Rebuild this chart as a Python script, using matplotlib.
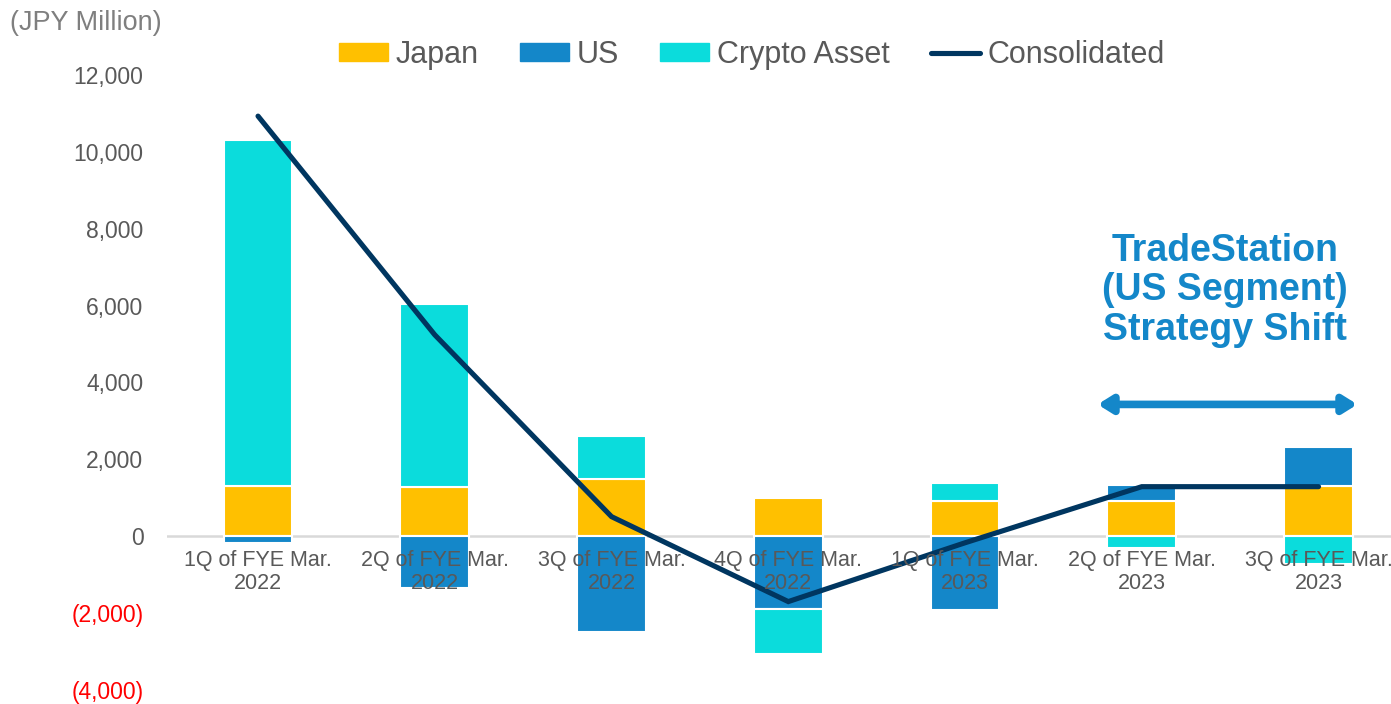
import numpy as np
import matplotlib.pyplot as plt
from matplotlib.patches import Patch
from matplotlib.lines import Line2D

# quarterly segment income (JPY million)
quarters = ['1Q of FYE Mar.\n2022', '2Q of FYE Mar.\n2022', '3Q of FYE Mar.\n2022',
            '4Q of FYE Mar.\n2022', '1Q of FYE Mar.\n2023', '2Q of FYE Mar.\n2023',
            '3Q of FYE Mar.\n2023']
japan = [1310, 1275, 1490, 1000, 910, 925, 1320]
us = [-175, -1355, -2485, -1890, -1925, 415, 1005]
crypto = [8990, 4765, 1120, -1165, 480, -310, -710]
consolidated = [10930, 5240, 510, -1700, -170, 1290, 1290]

yticks = [-4000, -2000, 0, 2000, 4000, 6000, 8000, 10000, 12000]

c_japan = '#FFC000'
c_us = '#1487C9'
c_crypto = '#0BDCDC'
c_line = '#003660'
c_text = '#595959'

plt.rcParams['font.family'] = ['Liberation Sans', 'DejaVu Sans']

fig = plt.figure(figsize=(13.91, 7.04), dpi=100)
ax = fig.add_axes([167 / 1391, 1 - 690 / 704, 1 - 167 / 1391, (690 - 75) / 704])

x = np.arange(len(quarters))
pos = np.zeros(len(x))
neg = np.zeros(len(x))
for vals, col in [(japan, c_japan), (us, c_us), (crypto, c_crypto)]:
    vals = np.array(vals, dtype=float)
    bottom = np.where(vals >= 0, pos, neg)
    ax.bar(x, vals, bottom=bottom, width=0.39, color=col, edgecolor='white',
           linewidth=1.5, zorder=2)
    pos = pos + np.where(vals >= 0, vals, 0)
    neg = neg + np.where(vals < 0, vals, 0)

ax.axhline(0, color='#d9d9d9', linewidth=1.8, zorder=1)
ax.plot(x, consolidated, color=c_line, linewidth=3.7, solid_capstyle='round',
        solid_joinstyle='miter', zorder=4)

ax.set_xlim(-0.515, 6.41)
ax.set_ylim(-4000, 12000)
for s in ax.spines.values():
    s.set_visible(False)
ax.set_xticks([])
ax.set_yticks(yticks)
ax.set_yticklabels([f'({abs(v):,})' if v < 0 else f'{v:,}' for v in yticks], fontsize=16.5)
ax.tick_params(axis='y', length=0, pad=17)
for lab, v in zip(ax.get_yticklabels(), yticks):
    lab.set_color('#FF0000' if v < 0 else c_text)

for xi, q in zip(x, quarters):
    ax.text(xi, -370, q, ha='center', va='top', fontsize=15.5, color=c_text,
            linespacing=1.12, zorder=5)

fig.text(10 / 1391, 1 - 23 / 704, '(JPY Million)', fontsize=19.5, color='#7f7f7f',
         ha='left', va='center')

handles = [Patch(color=c_japan), Patch(color=c_us), Patch(color=c_crypto),
           Line2D([0], [0], color=c_line, linewidth=3.7, solid_capstyle='round')]
fig.legend(handles, ['Japan', 'US', 'Crypto Asset', 'Consolidated'], ncol=4,
           loc='center', bbox_to_anchor=(752 / 1391, 1 - 55 / 704), frameon=False,
           fontsize=22, labelcolor=c_text, handlelength=1.6, handleheight=0.5,
           handletextpad=0.26, columnspacing=1.34)

ax.text(5.47, 7900, 'TradeStation\n(US Segment)\nStrategy Shift', ha='center', va='top',
        fontsize=27, fontweight='bold', color=c_us, linespacing=1.13)
ax.annotate('', xy=(4.75, 3430), xytext=(6.22, 3430),
            arrowprops=dict(arrowstyle='<|-|>,head_length=0.8,head_width=0.5',
                            color=c_us, linewidth=5.5, shrinkA=0, shrinkB=0))

fig.savefig('out.png', dpi=100)
